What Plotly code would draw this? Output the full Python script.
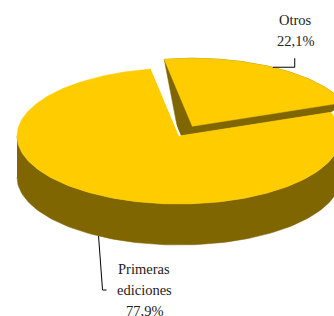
import numpy as np
import plotly.graph_objects as go

# Data
labels = ["Otros", "Primeras ediciones"]
values = [22.1, 77.9]
label_lines = [["Otros", "22,1%"], ["Primeras", "ediciones", "77,9%"]]

# Style / geometry (pixel space)
W, H = 334, 316
CX, CY = 179, 136
RX, RY = 162, 68
DEPTH = 41
START = 100.0          # start angle (deg, ccw, y-up) of first slice, going clockwise
EXPLODE = 0.165
TOP = "#FFCC00"
SIDE = "#806600"


def pt(cx, cy, t):
    r = np.radians(t)
    return cx + RX * np.cos(r), cy - RY * np.sin(r)


fracs = np.array(values) / sum(values)
spans = fracs * 360.0

fig = go.Figure()

# slice 0: Otros (exploded)
a0 = START
a1 = START - spans[0]
mid0 = (a0 + a1) / 2
ex = EXPLODE * RX * np.cos(np.radians(mid0))
ey = -EXPLODE * RY * np.sin(np.radians(mid0))
ocx, ocy = CX + ex, CY + ey

ts0 = np.linspace(a0, a1, 80)
arc_x, arc_y = pt(ocx, ocy, ts0)
# visible walls: from the top-left corner along the arc, down to the base vertex
rx_end, ry_end = pt(CX, CY, a1)
wall_x = np.concatenate([arc_x, [rx_end, CX, arc_x[0]]])
wall_y = np.concatenate([arc_y, [ry_end, CY, arc_y[0]]])
fig.add_trace(go.Scatter(x=wall_x, y=wall_y, mode="lines", fill="toself", fillcolor=SIDE,
                         line=dict(width=0.5, color=SIDE), hoverinfo="skip"))
top_x = np.concatenate([[ocx], arc_x, [ocx]])
top_y = np.concatenate([[ocy], arc_y, [ocy]])
fig.add_trace(go.Scatter(x=top_x, y=top_y, mode="lines", fill="toself", fillcolor=TOP,
                         line=dict(width=0.5, color=TOP), hoverinfo="skip"))

# slice 1: Primeras ediciones
b0 = a1
b1 = a1 - spans[1]
lo, hi = min(b0, b1), max(b0, b1)
f_lo, f_hi = max(lo, -180), min(hi, 0)
ts = np.linspace(f_lo, f_hi, 120)
ux, uy = pt(CX, CY, ts)
side_x = np.concatenate([ux, ux[::-1]])
side_y = np.concatenate([uy, (uy + DEPTH)[::-1]])
fig.add_trace(go.Scatter(x=side_x, y=side_y, mode="lines", fill="toself", fillcolor=SIDE,
                         line=dict(width=0.5, color=SIDE), hoverinfo="skip"))
ts1 = np.linspace(b0, b1, 240)
mx, my = pt(CX, CY, ts1)
fig.add_trace(go.Scatter(x=np.concatenate([[CX], mx, [CX]]), y=np.concatenate([[CY], my, [CY]]),
                         mode="lines", fill="toself", fillcolor=TOP,
                         line=dict(width=0.5, color=TOP), hoverinfo="skip"))
# white gap along the edge facing the exploded slice
ex1, ey1 = pt(CX, CY, b1 + 360)
fig.add_trace(go.Scatter(x=[CX + 1, ex1 + 1], y=[CY, ey1], mode="lines",
                         line=dict(width=2, color="white"), hoverinfo="skip"))

# leader lines
lx0, ly0 = pt(ocx, ocy, mid0)
fig.add_trace(go.Scatter(x=[lx0, lx0 + 22, lx0 + 22], y=[ly0, ly0, ly0 - 9], mode="lines",
                         line=dict(width=1, color="#000"), hoverinfo="skip"))
mid1 = (b0 + b1) / 2
lx1, ly1 = pt(CX, CY, mid1)
ly1 += DEPTH
fig.add_trace(go.Scatter(x=[lx1, lx1 + 4, lx1 + 8], y=[ly1, ly1 + 54, ly1 + 54], mode="lines",
                         line=dict(width=1, color="#000"), hoverinfo="skip"))

font = dict(family="Liberation Serif, Times New Roman, serif", size=14.5, color="#222")
for i, ln in enumerate(label_lines[0]):
    fig.add_annotation(x=295, y=20 + i * 21, text=ln, showarrow=False, font=font,
                       xanchor="center", yanchor="middle")
for i, ln in enumerate(label_lines[1]):
    fig.add_annotation(x=144, y=269 + i * 21, text=ln, showarrow=False, font=font,
                       xanchor="center", yanchor="middle")

fig.update_layout(width=W, height=H, margin=dict(l=0, r=0, t=0, b=0),
                  paper_bgcolor="white", plot_bgcolor="white", showlegend=False,
                  xaxis=dict(range=[0, W], visible=False, fixedrange=True),
                  yaxis=dict(range=[H, 0], visible=False, fixedrange=True))
fig.write_html("out.html", config={"displayModeBar": False},
               post_script="document.body.style.margin='0';document.body.style.overflow='hidden';")
